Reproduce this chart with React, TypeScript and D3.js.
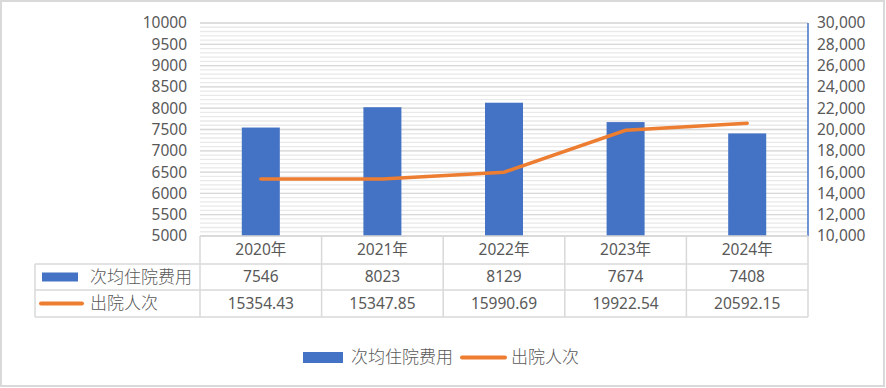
import React from 'react';
import * as d3 from 'd3';

const categories = ['2020年', '2021年', '2022年', '2023年', '2024年'];
const avgCost = [7546, 8023, 8129, 7674, 7408];
const discharges = [15354.43, 15347.85, 15990.69, 19922.54, 20592.15];
const costLabels = ['7546', '8023', '8129', '7674', '7408'];
const dischargeLabels = ['15354.43', '15347.85', '15990.69', '19922.54', '20592.15'];
const leftTicks = d3.range(5000, 10001, 500);
const rightTicks = d3.range(10000, 30001, 2000);
const minorTicks = d3.range(5000, 10001, 100);
const seriesNames = ['次均住院费用', '出院人次'];

const W = 886;
const H = 388;
const BLUE = '#4472c4';
const ORANGE = '#ed7d31';
const GRID = '#d9d9d9';
const TEXT = '#595959';
const FONT = '"Noto Sans", "Noto Sans CJK SC", sans-serif';
const CJK = '"Noto Sans CJK SC", sans-serif';

const App: React.FC = () => {
  const plot = { left: 200, right: 808, top: 23, bottom: 236 };
  const rows = [236, 264, 290, 317];
  const tableLeft = 35;

  const x = d3.scaleBand<string>().domain(categories).range([plot.left, plot.right]);
  const yLeft = d3.scaleLinear().domain([5000, 10000]).range([plot.bottom, plot.top]);
  const yRight = d3.scaleLinear().domain([10000, 30000]).range([plot.bottom, plot.top]);
  const barW = 38;
  const cx = (c: string) => (x(c) ?? 0) + x.bandwidth() / 2;

  const line = d3
    .line<number>()
    .x((_, i) => cx(categories[i]))
    .y(d => yRight(d));

  const rowMid = (i: number) => (rows[i] + rows[i + 1]) / 2;

  return (
    <svg width={W} height={H} style={{ position: 'absolute', left: 0, top: 0, background: '#fff' }}>
      <rect x={1} y={1} width={W - 3} height={H - 3} fill="#fff" stroke={GRID} strokeWidth={2} />

      {/* minor + major gridlines */}
      {minorTicks.map(t => (
        <line key={'m' + t} x1={plot.left} x2={plot.right} y1={yLeft(t)} y2={yLeft(t)}
          stroke="#e9e9e9" strokeWidth={1.3} />
      ))}
      {leftTicks.map(t => (
        <line key={'g' + t} x1={plot.left} x2={plot.right} y1={yLeft(t)} y2={yLeft(t)}
          stroke={GRID} strokeWidth={1.3} />
      ))}

      {/* bars */}
      {avgCost.map((v, i) => (
        <rect key={categories[i]} x={cx(categories[i]) - barW / 2} y={yLeft(v)}
          width={barW} height={plot.bottom - yLeft(v)} fill={BLUE} />
      ))}

      {/* line */}
      <path d={line(discharges) ?? ''} fill="none" stroke={ORANGE} strokeWidth={3.5} strokeLinecap="round" />

      {/* left axis labels */}
      {leftTicks.map(t => (
        <text key={'l' + t} x={187} y={yLeft(t)} dy="0.35em" textAnchor="end"
          fontFamily={FONT} fontSize={15.5} fill={TEXT}>{t}</text>
      ))}

      {/* right axis */}
      <line x1={plot.right} x2={plot.right} y1={plot.top} y2={plot.bottom} stroke={BLUE} strokeWidth={1.5} />
      {rightTicks.map(t => (
        <text key={'r' + t} x={817} y={yRight(t)} dy="0.35em" textAnchor="start"
          fontFamily={FONT} fontSize={15.5} fill={TEXT}>{d3.format(',')(t)}</text>
      ))}

      {/* data table */}
      <line x1={plot.left} x2={plot.right} y1={rows[0]} y2={rows[0]} stroke={GRID} strokeWidth={1.5} />
      {rows.slice(1).map(r => (
        <line key={'row' + r} x1={tableLeft} x2={plot.right} y1={r} y2={r} stroke={GRID} strokeWidth={1.5} />
      ))}
      <line x1={tableLeft} x2={tableLeft} y1={rows[1]} y2={rows[3]} stroke={GRID} strokeWidth={1.5} />
      {[...categories.map(c => x(c) ?? 0), plot.right].map((vx, i) => (
        <line key={'col' + i} x1={vx} x2={vx} y1={rows[0]} y2={rows[3]} stroke={GRID} strokeWidth={1.5} />
      ))}
      {categories.map((c, i) => (
        <g key={'t' + c} fontFamily={FONT} fontSize={15.5} fill={TEXT} textAnchor="middle">
          <text x={cx(c)} y={rowMid(0)} dy="0.35em">{c}</text>
          <text x={cx(c)} y={rowMid(1)} dy="0.35em">{costLabels[i]}</text>
          <text x={cx(c)} y={rowMid(2)} dy="0.35em">{dischargeLabels[i]}</text>
        </g>
      ))}
      <rect x={42} y={rowMid(1) - 4.5} width={36} height={9} fill={BLUE} />
      <text x={90} y={rowMid(1)} dy="0.35em" fontFamily={CJK} fontWeight={300} fontSize={17} fill={TEXT}>{seriesNames[0]}</text>
      <line x1={41} x2={82} y1={rowMid(2)} y2={rowMid(2)} stroke={ORANGE} strokeWidth={4} strokeLinecap="round" />
      <text x={90} y={rowMid(2)} dy="0.35em" fontFamily={CJK} fontWeight={300} fontSize={17} fill={TEXT}>{seriesNames[1]}</text>

      {/* legend */}
      <rect x={303} y={352} width={40} height={11} fill={BLUE} />
      <text x={351} y={357.5} dy="0.35em" fontFamily={CJK} fontWeight={300} fontSize={17} fill={TEXT}>{seriesNames[0]}</text>
      <line x1={462} x2={505} y1={357.5} y2={357.5} stroke={ORANGE} strokeWidth={4} strokeLinecap="round" />
      <text x={511} y={357.5} dy="0.35em" fontFamily={CJK} fontWeight={300} fontSize={17} fill={TEXT}>{seriesNames[1]}</text>
    </svg>
  );
};

export default App;
